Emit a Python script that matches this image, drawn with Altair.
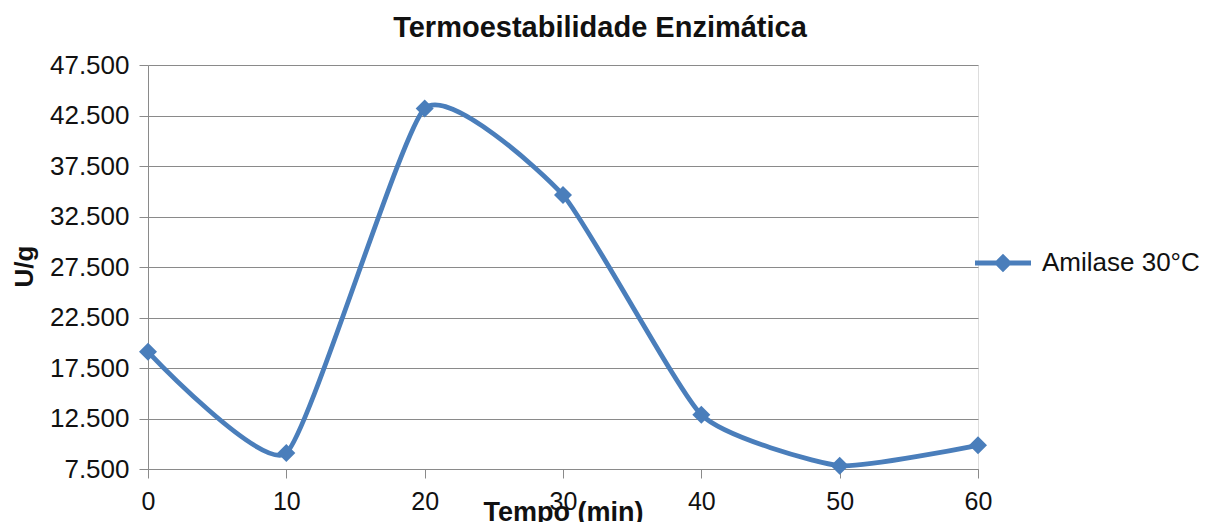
import altair as alt
import pandas as pd

# Data
tempo = [0, 10, 20, 30, 40, 50, 60]
atividade = [19100, 9080, 43200, 34630, 12870, 7830, 9840]
serie = ["Amilase 30°C"] * len(tempo)
y_ticks = [7500, 12500, 17500, 22500, 27500, 32500, 37500, 42500, 47500]
x_ticks = [0, 10, 20, 30, 40, 50, 60]

df = pd.DataFrame({"tempo": tempo, "atividade": atividade, "serie": serie})

BLUE = "#4a7ebb"
GRAY = "#8a8a8a"
FONT = "Liberation Sans"
TXT = "#111111"

x = alt.X(
    "tempo:Q",
    scale=alt.Scale(domain=[0, 60], nice=False, zero=False),
    axis=alt.Axis(
        values=x_ticks, title="Tempo (min)", grid=False, tickSize=9,
        labelPadding=11, labelFlush=False, labelOverlap=False,
        labelFont=FONT, labelFontSize=25, labelColor=TXT,
        titleFont=FONT, titleFontSize=27, titleFontWeight="bold", titleColor=TXT,
        titleX=415, titleY=51, titleBaseline="alphabetic", titleAlign="center",
        domainColor=GRAY, tickColor=GRAY, domainWidth=1, tickWidth=1,
    ),
)
y = alt.Y(
    "atividade:Q",
    scale=alt.Scale(domain=[7500, 47500], nice=False, zero=False),
    axis=alt.Axis(
        values=y_ticks, title="U/g", grid=True, gridColor=GRAY, gridWidth=1,
        tickSize=9, labelPadding=10, labelOverlap=False,
        labelExpr="replace(format(datum.value, ',.0f'), ',', '.')",
        labelFont=FONT, labelFontSize=26, labelColor=TXT,
        titleFont=FONT, titleFontSize=26, titleFontWeight="bold", titleColor=TXT,
        titleX=-116, titleY=201, titleBaseline="alphabetic", titleAlign="center",
        titleAngle=270,
        domainColor=GRAY, tickColor=GRAY, domainWidth=1, tickWidth=1,
    ),
)

base = alt.Chart(df).encode(x=x, y=y)

line = base.mark_line(color=BLUE, strokeWidth=4.8, interpolate="cardinal", tension=0.5)

legend_shape = "M-1,-0.09L1,-0.09L1,0.09L-1,0.09Z M0,-0.33L0.33,0L0,0.33L-0.33,0Z"

points = base.mark_point(shape="diamond", filled=True, size=324, opacity=1).encode(
    color=alt.Color(
        "serie:N",
        scale=alt.Scale(range=[BLUE]),
        legend=alt.Legend(
            title=None, orient="none", legendX=827, legendY=170, padding=0,
            symbolType=legend_shape, symbolSize=3136, symbolStrokeWidth=0,
            symbolOpacity=1, labelOffset=11,
            labelFont=FONT, labelFontSize=26, labelColor=TXT,
        ),
    )
)

chart = alt.layer(line, points).properties(
    width=830,
    height=404,
    autosize=alt.AutoSizeParams(type="none"),
    padding={"left": 140, "top": 57, "right": 222, "bottom": 53},
    title=alt.TitleParams(
        "Termoestabilidade Enzimática", font=FONT, fontSize=29, fontWeight="bold",
        anchor="middle", frame="group", dx=37, dy=30, baseline="alphabetic", offset=16,
        color=TXT,
    ),
).configure_view(stroke=None).configure(background="white")

chart.save("out.html", embed_options={"renderer": "svg", "actions": False})
